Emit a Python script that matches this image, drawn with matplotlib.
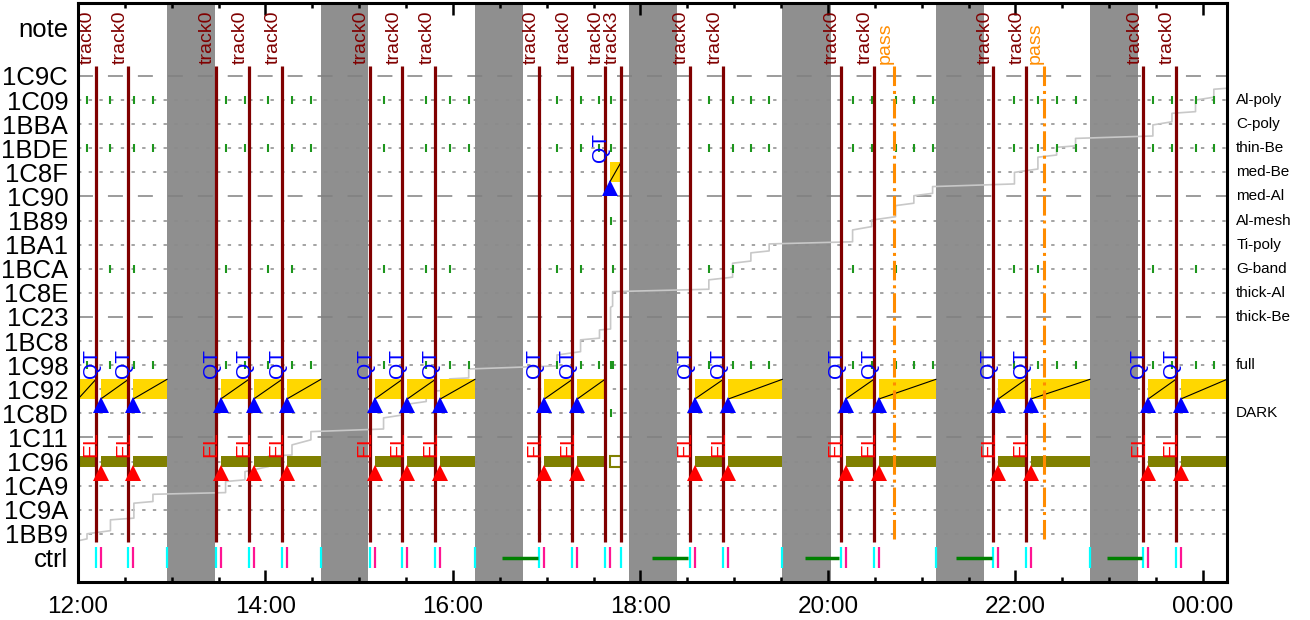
import matplotlib.pyplot as plt
from matplotlib.ticker import MultipleLocator, FuncFormatter
from matplotlib.patches import Rectangle

plt.rcParams['font.family'] = ['Liberation Sans', 'DejaVu Sans']

# rows of the timeline, top to bottom (y index 0..19), "note" above and "ctrl" below
row_names = ['1C9C', '1C09', '1BBA', '1BDE', '1C8F', '1C90', '1B89', '1BA1', '1BCA', '1C8E',
             '1C23', '1BC8', '1C98', '1C92', '1C8D', '1C11', '1C96', '1CA9', '1C9A', '1BB9']
filter_rows = [1, 2, 3, 4, 5, 6, 7, 8, 9, 10, 12, 14]
filter_labels = ['Al-poly', 'C-poly', 'thin-Be', 'med-Be', 'med-Al', 'Al-mesh', 'Ti-poly',
                 'G-band', 'thick-Al', 'thick-Be', 'full', 'DARK']

# all times in minutes after 12:00
x_max = 735.4
dark_start = [57.0, 155.5, 254.1, 352.6, 450.8, 549.1, 647.7]
dark_end = [87.5, 185.6, 284.6, 383.2, 482.0, 579.8, 678.2]

track_times = [11.5, 32.3, 88.3, 109.4, 130.6, 186.9, 207.7, 228.8, 295.4, 316.5,
               337.3, 347.5, 391.7, 413.1, 488.3, 509.4, 585.9, 606.7, 681.9, 702.7]
track_names = ['track0'] * 11 + ['track3'] + ['track0'] * 8
pass_times = [522.4, 618.4]

# QT events (blue triangle) and the row they sit on
qt_times = [14.5, 35.3, 91.3, 112.4, 133.6, 189.9, 210.7, 231.8, 298.4, 319.5,
            340.3, 394.7, 416.1, 491.3, 512.4, 588.9, 609.7, 684.9, 705.7]
qt_rows = [13] * 10 + [4] + [13] * 8

# exposure blocks (yellow on QT row, olive on 1C96)
seg_start = [0.0] + qt_times
seg_end = [11.5, 32.3, 57.0, 109.4, 130.6, 155.5, 207.7, 228.8, 254.1, 316.5,
           337.3, 347.5, 413.1, 450.8, 509.4, 549.1, 606.7, 647.7, 702.7, x_max]
seg_rows = [13] + qt_rows

# ctrl row
ctrl_cyan = track_times + [57.0, 155.5, 254.1, 450.8, 549.1, 647.7]
ctrl_pink = qt_times
ctrl_green_start = [271.4, 367.4, 465.3, 561.9, 658.6]
ctrl_green_end = [294.4, 390.4, 487.3, 585.0, 681.0]

# green filter ticks
tick_full = [5.8, 20.8, 35.8, 48.0, 94.5, 106.9, 121.9, 137.0, 149.1,
             195.6, 207.6, 222.9, 237.9, 250.1, 306.6, 321.7, 333.8, 340.9,
             403.8, 419.0, 430.7, 442.4, 495.8, 508.0, 523.3, 535.0, 547.0,
             599.4, 614.4, 626.4, 638.5, 688.0, 700.2, 715.3, 727.0]
tick_full_rows = [1, 3, 12]
tick_gband = [20.8, 35.8, 94.5, 121.9, 137.0, 195.6, 222.9, 237.9, 306.6, 321.7, 342.2,
              403.8, 419.0, 495.8, 523.3, 599.4, 614.4, 688.0, 715.3]
tick_extra_t = [340.9, 340.9, 342.2]
tick_extra_rows = [6, 14, 12]

# grey cumulative step curve: level just before / after each step
step_t = [0.0, 5.8, 20.8, 35.8, 48.0, 94.5, 106.9, 121.9, 137.0, 149.1,
          195.6, 207.6, 222.9, 237.9, 250.1, 306.6, 321.7, 333.8, 340.9, 342.2,
          403.8, 419.0, 430.7, 442.4, 495.8, 508.0, 523.3, 535.0, 547.0,
          599.4, 614.4, 626.4, 638.5, 688.0, 700.2, 715.3, 727.0, 735.4]
step_pre = [19.29, 19.21, 18.87, 18.35, 17.66, 17.29, 16.76, 16.21, 15.73, 15.10,
            14.65, 14.07, 13.51, 13.03, 12.53, 12.03, 11.44, 10.88, 10.50, 9.55,
            8.85, 8.35, 7.68, 7.26, 6.88, 6.25, 5.84, 5.28, 4.87,
            4.48, 3.86, 3.28, 2.90, 2.49, 1.90, 1.48, 0.88, 0.51]
step_post = [19.29, 19.00, 18.42, 17.73, 17.36, 16.83, 16.42, 15.77, 15.31, 14.76,
             14.19, 13.65, 13.10, 12.57, 12.16, 11.58, 10.95, 10.54, 9.60, 8.95,
             8.46, 7.77, 7.34, 6.97, 6.39, 5.98, 5.38, 4.97, 4.59,
             4.00, 3.37, 2.96, 2.59, 2.03, 1.55, 1.00, 0.55, 0.51]

DARKRED = '#800000'
ORANGE = '#FF8C00'
GREEN = '#1e961e'

fig = plt.figure(figsize=(13.1, 6.2), dpi=100)
ax = fig.add_axes([0.0595, 0.0613, 0.8771, 0.9339])

# eclipse bands
for s, e in zip(dark_start, dark_end):
    ax.axvspan(s, e, color='#8f8f8f', lw=0, zorder=0.5)

# row grid
for i in range(len(row_names)):
    if i % 5 == 0:
        ax.axhline(i, color='#808080', lw=1.1, ls=(0, (9.8, 9.8)), zorder=1)
    else:
        ax.axhline(i, color='#8a8a8a', lw=1.1, ls=(0, (2.2, 4.8)), zorder=1)

# grey step curve
sx, sy = [], []
for t, a, b in zip(step_t, step_pre, step_post):
    sx += [t, t]
    sy += [a, b]
ax.plot(sx, sy, color='#c8c8c8', lw=1.2, zorder=1.5)

# green filter ticks
for r in tick_full_rows:
    ax.plot(tick_full, [r] * len(tick_full), ls='none', marker='|', ms=5.5, mew=1.5,
            color=GREEN, zorder=2.5)
ax.plot(tick_gband, [8] * len(tick_gband), ls='none', marker='|', ms=5.5, mew=1.5,
        color=GREEN, zorder=2.5)
ax.plot(tick_extra_t, tick_extra_rows, ls='none', marker='|', ms=5.5, mew=1.5,
        color=GREEN, zorder=2.5)

# exposure blocks
for s, e, r in zip(seg_start, seg_end, seg_rows):
    ax.add_patch(Rectangle((s, r - 0.41), e - s, 0.82, facecolor='#FFD700', lw=0, zorder=2))
    ax.plot([s, e], [r + 0.41, r - 0.41], color='black', lw=0.8, zorder=2.1)
    if r == 13:
        ax.add_patch(Rectangle((s, 16 - 0.21), e - s, 0.42, facecolor='#808000', lw=0, zorder=2))
    else:
        ax.add_patch(Rectangle((s, 16 - 0.21), e - s, 0.42, facecolor='white',
                               edgecolor='#808000', lw=1.5, zorder=2))

# tracks and passes
ax.vlines(track_times, -0.4, 19.35, color=DARKRED, lw=2.3, zorder=3)
for t, name in zip(track_times, track_names):
    ax.text(t, -0.5, name, rotation=90, ha='right', va='bottom', color=DARKRED,
            fontsize=14, zorder=5)
ax.vlines(pass_times, -0.4, 19.35, color=ORANGE, lw=2.2, ls='-.', zorder=3)
for t in pass_times:
    ax.text(t, -0.5, 'pass', rotation=90, ha='right', va='bottom', color=ORANGE,
            fontsize=14, zorder=5)

# QT / EL markers
for t, r in zip(qt_times, qt_rows):
    ax.plot(t, r + 0.66, marker='^', ms=12, color='blue', mew=0, zorder=4)
    ax.text(t, r - 0.45, 'QT', rotation=90, ha='right', va='bottom', color='blue',
            fontsize=15, zorder=5)
    if r == 13:
        ax.plot(t, 16.47, marker='^', ms=12, color='red', mew=0, zorder=4)
        ax.text(t, 15.8, 'EL', rotation=90, ha='right', va='bottom', color='red',
                fontsize=15, zorder=5)

# ctrl row
ax.vlines(ctrl_cyan, 19.55, 20.4, color='cyan', lw=1.6, zorder=3)
ax.vlines(ctrl_pink, 19.55, 20.4, color='#FF1493', lw=1.6, zorder=3)
ax.hlines([20] * len(ctrl_green_start), ctrl_green_start, ctrl_green_end,
          color='green', lw=2.5, zorder=3)

# filter names on the right
for r, name in zip(filter_rows, filter_labels):
    ax.text(1.008, r, name, transform=ax.get_yaxis_transform(), ha='left', va='center',
            fontsize=11)

ax.set_xlim(0, x_max)
ax.set_ylim(21.0, -3.03)
ax.set_yticks([-2] + list(range(len(row_names))) + [20])
ax.set_yticklabels(['note'] + row_names + ['ctrl'])
ax.tick_params(axis='y', length=0, pad=7, labelsize=18.5)

ax.xaxis.set_major_locator(MultipleLocator(120))
ax.xaxis.set_minor_locator(MultipleLocator(30))
ax.xaxis.set_major_formatter(FuncFormatter(lambda m, p: f'{int(12 + m // 60) % 24:02d}:00'))
ax.tick_params(axis='x', which='major', direction='in', length=8.5, width=1.8, top=True,
               labelsize=17.5, pad=10)
ax.tick_params(axis='x', which='minor', direction='in', length=3.6, width=1.8, top=True)

for sp in ax.spines.values():
    sp.set_linewidth(2.2)
    sp.set_zorder(6)

fig.savefig('out.png', dpi=100)
